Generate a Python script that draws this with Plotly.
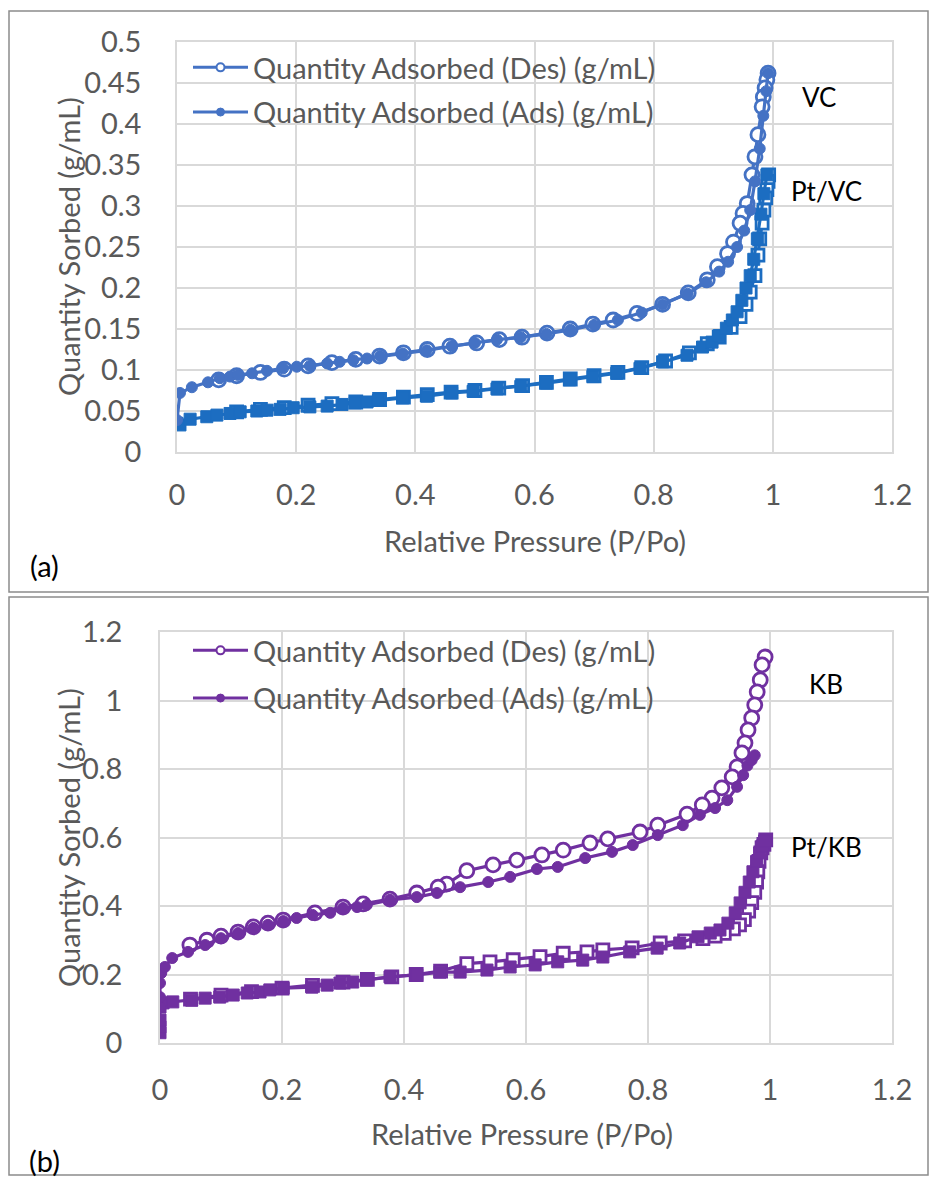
import plotly.graph_objects as go

# ---------------- data: panel (a) ----------------
vc_ads_x = [0.0, 0.005, 0.025, 0.052, 0.072, 0.089, 0.102, 0.126, 0.151, 0.178, 0.201, 0.223, 0.252, 0.273, 0.296,
            0.319, 0.341, 0.379, 0.419, 0.461, 0.5, 0.537, 0.577, 0.62, 0.66, 0.70, 0.74, 0.78, 0.815, 0.857, 0.888,
            0.91, 0.925, 0.94, 0.952, 0.962, 0.970, 0.978, 0.984, 0.989, 0.992]
vc_ads_y = [0.039, 0.072, 0.079, 0.085, 0.090, 0.092, 0.094, 0.096, 0.099, 0.102, 0.104, 0.105, 0.108, 0.110, 0.112,
            0.114, 0.117, 0.120, 0.124, 0.129, 0.133, 0.137, 0.140, 0.144, 0.149, 0.155, 0.161, 0.170, 0.180, 0.193,
            0.207, 0.220, 0.232, 0.250, 0.270, 0.295, 0.33, 0.37, 0.41, 0.44, 0.462]
vc_des_x = [0.992, 0.99, 0.987, 0.984, 0.982, 0.975, 0.97, 0.965, 0.957, 0.95, 0.945, 0.934, 0.924, 0.907, 0.89,
            0.858, 0.815, 0.772, 0.732, 0.698, 0.66, 0.621, 0.579, 0.541, 0.503, 0.458, 0.42, 0.38, 0.34, 0.3, 0.26,
            0.22, 0.18, 0.14, 0.1, 0.07]
vc_des_y = [0.462, 0.454, 0.444, 0.433, 0.421, 0.387, 0.36, 0.338, 0.303, 0.291, 0.279, 0.256, 0.242, 0.226, 0.21,
            0.194, 0.18, 0.169, 0.161, 0.156, 0.15, 0.145, 0.14, 0.137, 0.133, 0.129, 0.125, 0.121, 0.117, 0.113,
            0.109, 0.105, 0.101, 0.097, 0.093, 0.088]
ptvc_ads_x = [0.0, 0.005, 0.022, 0.05, 0.067, 0.089, 0.106, 0.134, 0.151, 0.173, 0.195, 0.223, 0.252, 0.277, 0.299,
              0.319, 0.338, 0.379, 0.419, 0.461, 0.497, 0.537, 0.577, 0.62, 0.659, 0.698, 0.738, 0.777, 0.815, 0.856,
              0.882, 0.898, 0.91, 0.922, 0.932, 0.94, 0.948, 0.955, 0.962, 0.968, 0.974, 0.980, 0.985, 0.99]
ptvc_ads_y = [0.035, 0.033, 0.040, 0.043, 0.045, 0.047, 0.049, 0.050, 0.051, 0.052, 0.054, 0.055, 0.056, 0.058, 0.060,
              0.061, 0.063, 0.066, 0.068, 0.072, 0.074, 0.077, 0.080, 0.084, 0.088, 0.092, 0.096, 0.102, 0.110, 0.118,
              0.128, 0.134, 0.142, 0.151, 0.161, 0.171, 0.185, 0.20, 0.215, 0.235, 0.26, 0.29, 0.315, 0.338]
ptvc_des_x = [0.993, 0.992, 0.99, 0.988, 0.985, 0.982, 0.978, 0.975, 0.97, 0.962, 0.955, 0.945, 0.93, 0.91, 0.89,
              0.86, 0.82, 0.78, 0.74, 0.70, 0.66, 0.62, 0.58, 0.54, 0.50, 0.46, 0.42, 0.38, 0.34, 0.30, 0.26, 0.22,
              0.18, 0.14, 0.10]
ptvc_des_y = [0.338, 0.33, 0.32, 0.31, 0.295, 0.279, 0.26, 0.24, 0.215, 0.195, 0.18, 0.165, 0.152, 0.14, 0.132,
              0.121, 0.111, 0.103, 0.097, 0.093, 0.089, 0.085, 0.081, 0.078, 0.075, 0.073, 0.070, 0.067, 0.064, 0.061,
              0.059, 0.057, 0.054, 0.052, 0.049]

# ---------------- data: panel (b) ----------------
kb_ads_x = [0.0, 0.0, 0.0, 0.002, 0.008, 0.02, 0.046, 0.074, 0.1, 0.128, 0.153, 0.177, 0.202, 0.224, 0.25, 0.279,
            0.3, 0.323, 0.339, 0.377, 0.421, 0.454, 0.492, 0.538, 0.574, 0.618, 0.652, 0.697, 0.741, 0.775, 0.816,
            0.857, 0.885, 0.91, 0.93, 0.946, 0.956, 0.963, 0.97, 0.975]
kb_ads_y = [0.105, 0.134, 0.175, 0.204, 0.222, 0.248, 0.266, 0.286, 0.306, 0.321, 0.336, 0.345, 0.356, 0.365, 0.374,
            0.38, 0.394, 0.397, 0.403, 0.418, 0.426, 0.438, 0.455, 0.47, 0.485, 0.508, 0.514, 0.54, 0.558, 0.578,
            0.607, 0.636, 0.666, 0.686, 0.709, 0.748, 0.782, 0.81, 0.826, 0.84]
kb_des_x = [0.992, 0.987, 0.984, 0.979, 0.975, 0.97, 0.964, 0.959, 0.954, 0.946, 0.938, 0.921, 0.905, 0.889, 0.864,
            0.816, 0.787, 0.734, 0.705, 0.661, 0.626, 0.585, 0.546, 0.503, 0.47, 0.456, 0.421, 0.377, 0.333, 0.3,
            0.254, 0.202, 0.177, 0.153, 0.128, 0.1, 0.077, 0.049]
kb_des_y = [1.127, 1.104, 1.06, 1.025, 0.987, 0.949, 0.914, 0.876, 0.847, 0.806, 0.777, 0.745, 0.715, 0.695, 0.668,
            0.636, 0.616, 0.596, 0.584, 0.563, 0.549, 0.534, 0.52, 0.503, 0.464, 0.455, 0.438, 0.42, 0.406, 0.397,
            0.38, 0.359, 0.35, 0.339, 0.324, 0.312, 0.3, 0.286]
ptkb_ads_x = [0.0, 0.0, 0.0, 0.0, 0.005, 0.021, 0.052, 0.074, 0.098, 0.12, 0.143, 0.164, 0.18, 0.202, 0.249, 0.274,
              0.295, 0.316, 0.339, 0.377, 0.421, 0.459, 0.492, 0.536, 0.574, 0.615, 0.652, 0.693, 0.726, 0.77, 0.815,
              0.852, 0.882, 0.902, 0.918, 0.931, 0.943, 0.951, 0.959, 0.966, 0.972, 0.978, 0.983, 0.987, 0.991]
ptkb_ads_y = [0.03, 0.047, 0.067, 0.105, 0.117, 0.12, 0.125, 0.131, 0.134, 0.14, 0.146, 0.149, 0.155, 0.16, 0.163,
              0.169, 0.175, 0.178, 0.184, 0.193, 0.199, 0.207, 0.207, 0.213, 0.222, 0.228, 0.237, 0.242, 0.251, 0.266,
              0.277, 0.292, 0.31, 0.321, 0.33, 0.35, 0.38, 0.409, 0.44, 0.47, 0.5, 0.53, 0.555, 0.575, 0.59]
ptkb_des_x = [0.993, 0.99, 0.987, 0.985, 0.982, 0.98, 0.978, 0.975, 0.97, 0.965, 0.958, 0.95, 0.94, 0.925, 0.91,
              0.89, 0.86, 0.82, 0.774, 0.726, 0.70, 0.661, 0.623, 0.579, 0.541, 0.503, 0.46, 0.42, 0.38, 0.34, 0.30,
              0.25, 0.2, 0.15, 0.1, 0.05]
ptkb_des_y = [0.593, 0.58, 0.57, 0.555, 0.53, 0.5, 0.47, 0.44, 0.41, 0.385, 0.36, 0.345, 0.333, 0.32, 0.312, 0.305,
              0.298, 0.292, 0.278, 0.272, 0.266, 0.262, 0.252, 0.243, 0.237, 0.232, 0.21, 0.2, 0.193, 0.186, 0.178,
              0.168, 0.16, 0.15, 0.14, 0.128]

legend_names = ["Quantity Adsorbed (Des) (g/mL)", "Quantity Adsorbed (Ads) (g/mL)"]
x_ticks = [0, 0.2, 0.4, 0.6, 0.8, 1.0, 1.2]
x_tick_text = ["0", "0.2", "0.4", "0.6", "0.8", "1", "1.2"]
ya_ticks = [0, 0.05, 0.1, 0.15, 0.2, 0.25, 0.3, 0.35, 0.4, 0.45, 0.5]
ya_tick_text = ["0", "0.05", "0.1", "0.15", "0.2", "0.25", "0.3", "0.35", "0.4", "0.45", "0.5"]
yb_ticks = [0, 0.2, 0.4, 0.6, 0.8, 1.0, 1.2]
yb_tick_text = ["0", "0.2", "0.4", "0.6", "0.8", "1", "1.2"]

# ---------------- styling ----------------
W, H = 932, 1179
FONT = "Lato"
GRAY = "#595959"
GRID = "#D9D9D9"
C_VC = "#4472C4"
C_PTVC = "#1C6DC1"
C_KB = "#7030A0"
FS = 29


def px(x):
    return x / W


def py(y):
    return 1 - y / H


fig = go.Figure()


def add_series(x, y, color, symbol, is_open, xa, ya, size):
    if is_open:
        marker = dict(symbol=symbol, size=size, color="white", line=dict(color=color, width=2.8))
    else:
        marker = dict(symbol=symbol, size=size, color=color, line=dict(color=color, width=1))
    fig.add_trace(go.Scatter(x=x, y=y, mode="lines+markers", line=dict(color=color, width=3.2),
                             marker=marker, xaxis=xa, yaxis=ya, showlegend=False, hoverinfo="skip"))


# panel (a): desorption first, adsorption drawn on top
add_series(ptvc_des_x, ptvc_des_y, C_PTVC, "square", True, "x", "y", 12)
add_series(ptvc_ads_x, ptvc_ads_y, C_PTVC, "square", False, "x", "y", 12)
add_series(vc_des_x, vc_des_y, C_VC, "circle", True, "x", "y", 14)
add_series(vc_ads_x, vc_ads_y, C_VC, "circle", False, "x", "y", 11)
# panel (b)
add_series(ptkb_des_x, ptkb_des_y, C_KB, "square", True, "x2", "y2", 12)
add_series(ptkb_ads_x, ptkb_ads_y, C_KB, "square", False, "x2", "y2", 12)
add_series(kb_des_x, kb_des_y, C_KB, "circle", True, "x2", "y2", 14)
add_series(kb_ads_x, kb_ads_y, C_KB, "circle", False, "x2", "y2", 11)

# legend entries
for color, leg, xa, ya in [(C_VC, "legend", "x", "y"), (C_KB, "legend2", "x2", "y2")]:
    fig.add_trace(go.Scatter(x=[None], y=[None], mode="lines+markers", name=legend_names[0],
                             line=dict(color=color, width=3), legend=leg, legendgroup=leg + "d",
                             marker=dict(symbol="circle", size=8, color="white", line=dict(color=color, width=2)),
                             xaxis=xa, yaxis=ya))
    fig.add_trace(go.Scatter(x=[None], y=[None], mode="lines+markers", name=legend_names[1],
                             line=dict(color=color, width=3), legend=leg, legendgroup=leg + "a",
                             marker=dict(symbol="circle", size=8, color=color, line=dict(color=color, width=1)),
                             xaxis=xa, yaxis=ya))

axis_common = dict(showgrid=True, gridcolor=GRID, gridwidth=1.5, showline=True, linecolor=GRID, linewidth=1.5,
                   mirror=True, zeroline=False, ticks="", tickfont=dict(family=FONT, size=FS, color=GRAY),
                   automargin=False)

fig.update_layout(
    width=W, height=H, margin=dict(l=0, r=0, t=0, b=0, autoexpand=False),
    paper_bgcolor="white", plot_bgcolor="white",
    xaxis=dict(domain=[px(177), px(892)], range=[0, 1.2], tickvals=x_ticks, ticktext=x_tick_text,
               anchor="y", ticklabelstandoff=16, **axis_common),
    yaxis=dict(domain=[py(452), py(42)], range=[0, 0.5], tickvals=ya_ticks, ticktext=ya_tick_text,
               anchor="x", ticklabelstandoff=28, **axis_common),
    xaxis2=dict(domain=[px(160), px(892)], range=[0, 1.2], tickvals=x_ticks, ticktext=x_tick_text,
                anchor="y2", ticklabelstandoff=20, **axis_common),
    yaxis2=dict(domain=[py(1043), py(632)], range=[0, 1.2], tickvals=yb_ticks, ticktext=yb_tick_text,
                anchor="x2", ticklabelstandoff=30, **axis_common),
    legend=dict(x=px(188), y=py(42), xanchor="left", yanchor="top", bgcolor="rgba(0,0,0,0)",
                font=dict(family=FONT, size=FS, color=GRAY), tracegroupgap=4, itemwidth=55),
    legend2=dict(x=px(188), y=py(625), xanchor="left", yanchor="top", bgcolor="rgba(0,0,0,0)",
                 font=dict(family=FONT, size=FS, color=GRAY), tracegroupgap=7, itemwidth=55),
)

# panel borders
fig.add_shape(type="rect", xref="paper", yref="paper", x0=px(9), x1=px(928), y0=py(592), y1=py(11),
              line=dict(color="#8C8C8C", width=1.5), layer="below")
fig.add_shape(type="rect", xref="paper", yref="paper", x0=px(9), x1=px(928), y0=py(1175), y1=py(597),
              line=dict(color="#8C8C8C", width=1.5), layer="below")

annots = [
    ("Quantity Sorbed (g/mL)", 68, 247, -90, GRAY, FS),
    ("Relative Pressure (P/Po)", 535, 540, 0, GRAY, FS),
    ("Quantity Sorbed (g/mL)", 68, 838, -90, GRAY, FS),
    ("Relative Pressure (P/Po)", 522, 1133, 0, GRAY, FS),
    ("(a)", 44, 565, 0, "black", FS),
    ("(b)", 44, 1160, 0, "black", FS),
    ("VC", 819, 97, 0, "black", 26),
    ("Pt/VC", 826, 191, 0, "black", 26),
    ("KB", 826, 684, 0, "black", 26),
    ("Pt/KB", 826, 847, 0, "black", 26),
]
for text, x, y, ang, col, sz in annots:
    fig.add_annotation(text=text, x=px(x), y=py(y), xref="paper", yref="paper", showarrow=False,
                       textangle=ang, xanchor="center", yanchor="middle",
                       font=dict(family=FONT, size=sz, color=col))

fig.write_html("out.html")
